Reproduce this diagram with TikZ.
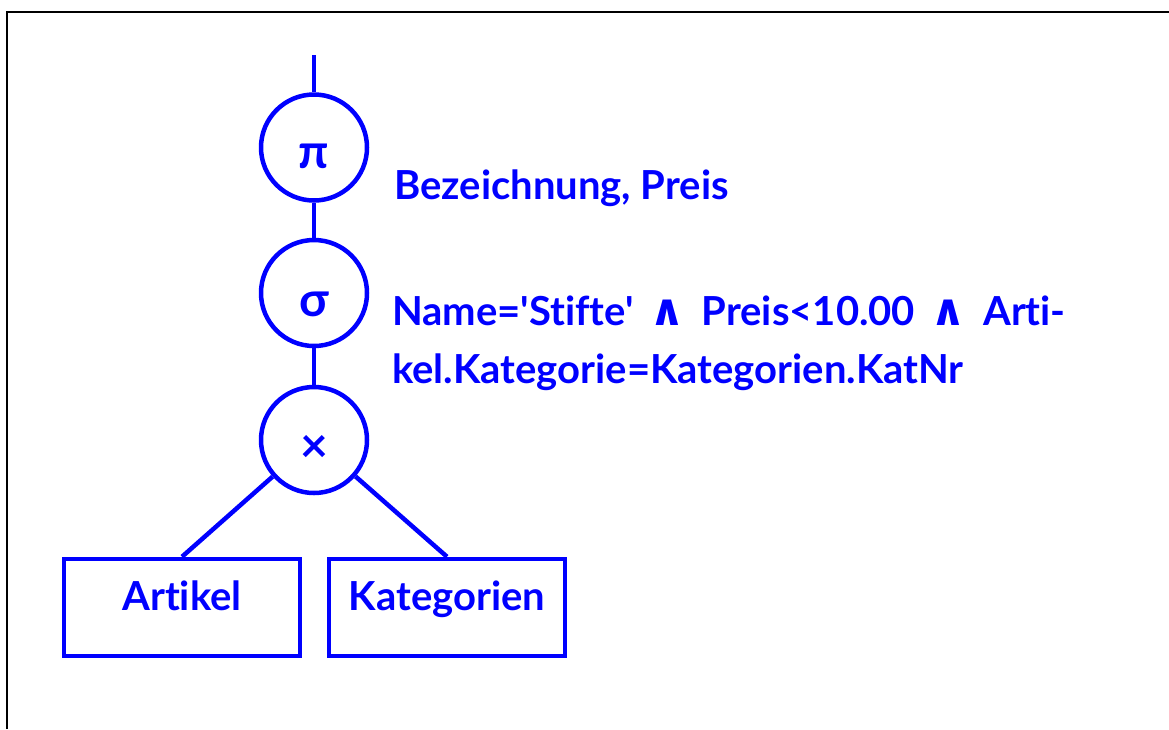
\documentclass[tikz,border=0pt]{standalone}
\usepackage{fontspec}
\setmainfont{Lato}[Ligatures={TeXOff,NoCommon}]
\newfontfamily\symfont{DejaVu Sans}
\definecolor{relblue}{RGB}{0,0,255}
\newcommand{\andsym}{\kern6pt{\symfont\bfseries\fontsize{44}{44}\selectfont ∧}\kern7pt}
\tikzset{
  opnode/.style={circle,draw=relblue,line width=4.5pt,minimum size=106pt,inner sep=0pt},
  opsym/.style={text=relblue,inner sep=0pt,font=\fontsize{48}{48}\selectfont\bfseries},
  relbox/.style={draw=relblue,line width=4.5pt,minimum width=236pt,minimum height=97pt,
    text=relblue,text height=25pt,text depth=20pt},
  condtext/.style={text=relblue,anchor=base west,inner sep=0pt},
  edge/.style={draw=relblue,line width=4.5pt}
}
\begin{document}
\begin{tikzpicture}[x=1pt,y=-1pt,font=\fontsize{40}{46}\selectfont\bfseries]
	\useasboundingbox (0,0) rectangle (1169,729);
	\draw[line width=2.5pt] (7,729) -- (7,12) -- (1169,12);
	% operator tree
	\node[opnode,label={[opsym,yshift=-8.5pt]center:π}] (proj) at (314,147.5) {};
	\node[opnode,label={[opsym,yshift=-11pt]center:σ}] (sel) at (314,293) {};
	\node[opnode,label={[opsym,yshift=-8.5pt]center:×}] (prod) at (314,440) {};
	\coordinate (out) at (314,55);
	\node[relbox] (artikel) at (182,607.5) {Artikel};
	\node[relbox] (kat) at (447,607.5) {Kategorien};
	\draw[edge] (out) -- (proj);
	\draw[edge] (proj) -- (sel);
	\draw[edge] (sel) -- (prod);
	\draw[edge] (prod) -- (artikel.north);
	\draw[edge] (prod) -- (kat.north);
	% attributes and condition
	\node[condtext] (attr) at (394,199) {Bezeichnung, Preis};
	\node[condtext] (cond1) at (392,325) {Name='Stifte' \andsym{} Preis<10.00 \andsym{} Arti-};
	\node[condtext] (cond2) at (392,383) {kel.Kategorie=Kategorien.KatNr};
\end{tikzpicture}
\end{document}
